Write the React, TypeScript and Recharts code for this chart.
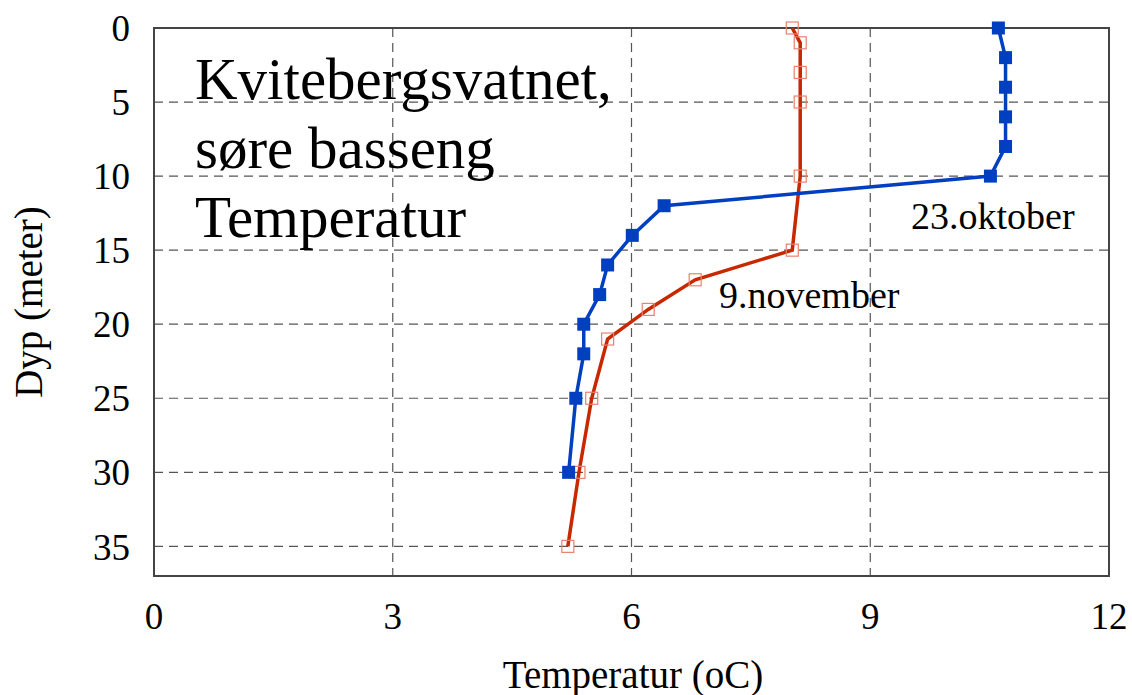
import { ScatterChart, Scatter, XAxis, YAxis, CartesianGrid, ReferenceArea } from 'recharts';

// 23. oktober
const depthOct = [0, 2, 4, 6, 8, 10, 12, 14, 16, 18, 20, 22, 25, 30];
const tempOct = [10.61, 10.7, 10.7, 10.7, 10.7, 10.51, 6.41, 6.01, 5.7, 5.6, 5.4, 5.4, 5.3, 5.21];

// 9. november
const depthNov = [0, 1, 3, 5, 10, 15, 17, 19, 21, 25, 30, 35];
const tempNov = [8.02, 8.12, 8.12, 8.12, 8.12, 8.02, 6.8, 6.21, 5.7, 5.5, 5.34, 5.2];

const xTicks = [0, 3, 6, 9, 12];
const yTicks = [0, 5, 10, 15, 20, 25, 30, 35];
const titleLines = ['Kvitebergsvatnet,', 'søre basseng', 'Temperatur'];

const octData = depthOct.map((d, i) => ({ depth: d, temp: tempOct[i] }));
const novData = depthNov.map((d, i) => ({ depth: d, temp: tempNov[i] }));

const FONT = '"Liberation Serif", "Times New Roman", serif';
const BLUE = '#0040c0';
const RED = '#c82800';

const BlueSquare = (p: any) => (
  <rect x={p.cx - 6.5} y={p.cy - 6.5} width={13} height={13} fill={BLUE} stroke="none" />
);
const RedSquare = (p: any) => (
  <rect x={p.cx - 6} y={p.cy - 6} width={12} height={12} fill="none" stroke="#e8826e" strokeWidth={1.2} />
);

export default function App() {
  return (
    <div style={{ position: 'absolute', left: 0, top: 0, width: 1132, height: 695, background: '#fff' }}>
      <ScatterChart width={1132} height={695} margin={{ top: 28, right: 23, bottom: 0, left: 0 }}>
        <CartesianGrid strokeDasharray="9 6" stroke="#555" strokeWidth={1.2} />
        <XAxis
          type="number"
          dataKey="temp"
          domain={[0, 12]}
          ticks={xTicks}
          height={119}
          tickSize={0}
          tickMargin={27}
          axisLine={false}
          tick={{ fontSize: 37, fill: '#000', fontFamily: FONT }}
        />
        <YAxis
          type="number"
          dataKey="depth"
          domain={[0, 37]}
          ticks={yTicks}
          reversed
          width={154}
          tickSize={0}
          tickMargin={24}
          axisLine={false}
          tick={{ fontSize: 37, fill: '#000', fontFamily: FONT }}
        />
        <ReferenceArea x1={0} x2={12} y1={0} y2={37} fill="none" stroke="#444" strokeWidth={2} fillOpacity={0} />
        <Scatter
          data={novData}
          fill={RED}
          stroke={RED}
          strokeWidth={3}
          line={{ stroke: RED, strokeWidth: 3.5 }}
          shape={RedSquare}
          isAnimationActive={false}
        />
        <Scatter
          data={octData}
          fill={BLUE}
          stroke={BLUE}
          strokeWidth={3.5}
          line={{ stroke: BLUE, strokeWidth: 3.5 }}
          shape={BlueSquare}
          isAnimationActive={false}
        />
      </ScatterChart>
      <svg width={1132} height={695} style={{ position: 'absolute', left: 0, top: 0, pointerEvents: 'none' }}>
        {titleLines.map((t, i) => (
          <text key={t} x={195} y={99 + i * 69} fontSize={59} fontFamily={FONT} fill="#000">
            {t}
          </text>
        ))}
        <text x={911} y={229} fontSize={38} fontFamily={FONT} fill="#000">23.oktober</text>
        <text x={719} y={308} fontSize={38} fontFamily={FONT} fill="#000">9.november</text>
        <text x={633} y={688} fontSize={39} fontFamily={FONT} fill="#000" textAnchor="middle">Temperatur (oC)</text>
        <text
          x={0}
          y={0}
          fontSize={39}
          fontFamily={FONT}
          fill="#000"
          textAnchor="middle"
          transform="translate(42, 302) rotate(-90)"
        >
          Dyp (meter)
        </text>
      </svg>
    </div>
  );
}
